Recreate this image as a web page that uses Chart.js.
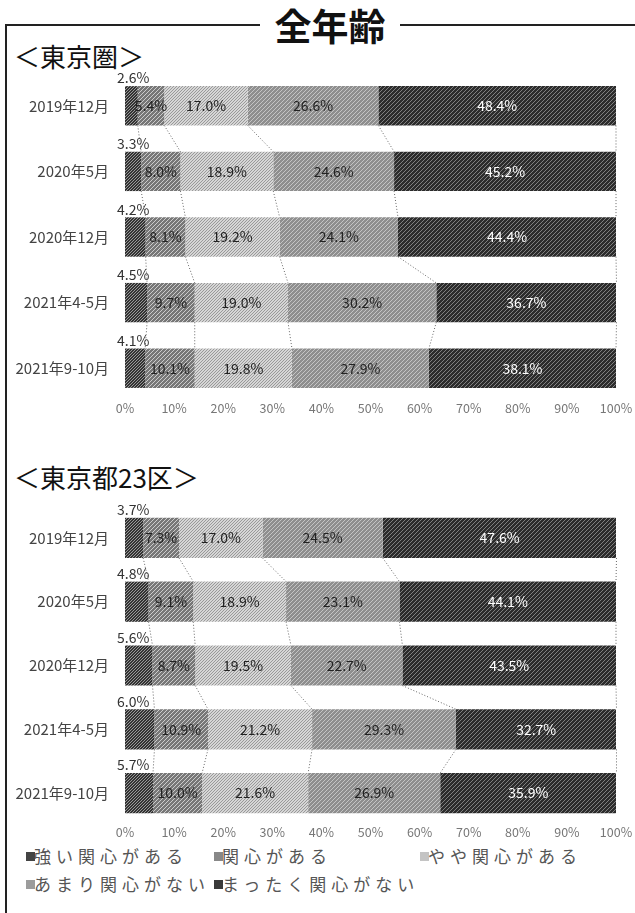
<!DOCTYPE html>
<html>
<head>
<meta charset="utf-8">
<script src="https://cdn.jsdelivr.net/npm/chart.js@4"></script>
<style>
    body { margin: 0; background: #fff; width: 635px; height: 913px; position: relative; overflow: hidden;
           font-family: "Noto Sans CJK JP", sans-serif; }
    #frame { position: absolute; left: 5px; top: 24px; width: 640px; height: 900px;
             border-left: 2px solid #222; border-top: 2px solid #222; }
    #title { position: absolute; left: 260px; top: 3px; width: 140px; text-align: center; background: #fff;
             font-size: 37px; font-weight: bold; line-height: 44px; color: #111; }
    .panel { position: absolute; left: 14px; font-size: 26px; line-height: 30px; color: #111; }
    canvas { position: absolute; left: 0; }
    .legend { position: absolute; font-size: 17px; letter-spacing: 5px; color: #555; line-height: 18px; white-space: nowrap; }
    .legend i { display: inline-block; width: 9px; height: 9px; margin-right: -1px; vertical-align: 2px; }
</style>
</head>
<body>
<div id="frame"></div>
<div id="title">全年齢</div>
<div class="panel" style="top:41px">＜東京圏＞</div>
<div class="panel" style="top:462px">＜東京都23区＞</div>
<canvas id="chartKen" width="635" height="363" style="top:56px"></canvas>
<canvas id="chartKu" width="635" height="354" style="top:489px"></canvas>
<div id="legend"></div>

<script>
// categories and series
const months = ["2019年12月", "2020年5月", "2020年12月", "2021年4-5月", "2021年9-10月"];
const seriesNames = ["強い関心がある", "関心がある", "やや関心がある", "あまり関心がない", "まったく関心がない"];
const xTicks = [0, 10, 20, 30, 40, 50, 60, 70, 80, 90, 100];

// 東京圏
const kenStrong = [2.6, 3.3, 4.2, 4.5, 4.1];
const kenInterest = [5.4, 8.0, 8.1, 9.7, 10.1];
const kenSomewhat = [17.0, 18.9, 19.2, 19.0, 19.8];
const kenLittle = [26.6, 24.6, 24.1, 30.2, 27.9];
const kenNone = [48.4, 45.2, 44.4, 36.7, 38.1];

// 東京都23区
const kuStrong = [3.7, 4.8, 5.6, 6.0, 5.7];
const kuInterest = [7.3, 9.1, 8.7, 10.9, 10.0];
const kuSomewhat = [17.0, 18.9, 19.5, 21.2, 21.6];
const kuLittle = [24.5, 23.1, 22.7, 29.3, 26.9];
const kuNone = [47.6, 44.1, 43.5, 32.7, 35.9];

// greyscale textures like the printed original
function makePattern(bg, fg, step) {
    const c = document.createElement("canvas");
    c.width = step; c.height = step;
    const g = c.getContext("2d");
    g.fillStyle = bg;
    g.fillRect(0, 0, step, step);
    g.fillStyle = fg;
    for (let i = 0; i < step; i++) g.fillRect(i, step - 1 - i, 1, 1);
    return g.createPattern(c, "repeat");
}

const fills = [
    makePattern("#333", "#999", 3),
    makePattern("#777", "#ccc", 4),
    makePattern("#d6d6d6", "#999", 3),
    makePattern("#8e8e8e", "#c4c4c4", 4),
    makePattern("#2c2c2c", "#808080", 4)
];
const legendColors = ["#444", "#888", "#c4c4c4", "#9c9c9c", "#3a3a3a"];

// data labels + dotted series lines
const barExtras = {
    id: "barExtras",
    afterDatasetsDraw(chart) {
        const ctx = chart.ctx;
        const n = chart.data.labels.length;
        ctx.save();
        ctx.strokeStyle = "#666";
        ctx.lineWidth = 1;
        ctx.setLineDash([1, 2]);
        chart.data.datasets.forEach((ds, d) => {
            const meta = chart.getDatasetMeta(d);
            for (let i = 0; i < n - 1; i++) {
                const a = meta.data[i], b = meta.data[i + 1];
                ctx.beginPath();
                ctx.moveTo(a.x, a.y + a.height / 2);
                ctx.lineTo(b.x, b.y - b.height / 2);
                ctx.stroke();
            }
        });
        ctx.setLineDash([]);
        ctx.font = '14px "Noto Sans CJK JP"';
        chart.data.datasets.forEach((ds, d) => {
            const meta = chart.getDatasetMeta(d);
            meta.data.forEach((bar, i) => {
                const txt = ds.data[i].toFixed(1) + "%";
                if (d === 0) {
                    ctx.fillStyle = "#333";
                    ctx.textAlign = "left";
                    ctx.textBaseline = "bottom";
                    ctx.fillText(txt, bar.base - 8, bar.y - bar.height / 2 - 1);
                } else {
                    ctx.fillStyle = d === 4 ? "#fff" : "#222";
                    ctx.textAlign = "center";
                    ctx.textBaseline = "middle";
                    ctx.fillText(txt, (bar.x + bar.base) / 2, bar.y);
                }
            });
        });
        ctx.restore();
    }
};

function makeChart(id, values, axisH, barPct) {
    const ctx = document.getElementById(id).getContext("2d");
    return new Chart(ctx, {
        type: "bar",
        data: {
            labels: months,
            datasets: values.map((v, k) => ({
                label: seriesNames[k],
                data: v,
                backgroundColor: fills[k],
                borderWidth: 0,
                categoryPercentage: 1,
                barPercentage: barPct
            }))
        },
        options: {
            indexAxis: "y",
            responsive: false,
            animation: false,
            layout: { padding: { left: 0, right: 19, top: 0, bottom: 0 } },
            plugins: { legend: { display: false }, tooltip: { enabled: false } },
            scales: {
                x: {
                    stacked: true,
                    min: 0,
                    max: 100,
                    afterBuildTicks: scale => { scale.ticks = xTicks.map(v => ({ value: v })); },
                    afterFit: scale => { scale.height = axisH; },
                    grid: { display: false, drawTicks: false },
                    border: { display: false },
                    ticks: {
                        padding: 0,
                        color: "#777",
                        font: { family: "Noto Sans CJK JP", size: 12.5 },
                        callback: v => v + "%"
                    }
                },
                y: {
                    stacked: true,
                    afterFit: scale => { scale.width = 125; },
                    grid: { display: false },
                    border: { display: false },
                    ticks: {
                        padding: 8,
                        color: "#444",
                        font: { family: "Noto Sans CJK JP", size: 15 }
                    }
                }
            }
        },
        plugins: [barExtras]
    });
}

makeChart("chartKen", [kenStrong, kenInterest, kenSomewhat, kenLittle, kenNone], 18, 0.6);
makeChart("chartKu", [kuStrong, kuInterest, kuSomewhat, kuLittle, kuNone], 18, 0.63);

// legend
const legendPos = [[26, 847], [214, 847], [420, 847], [26, 875], [214, 875]];
const legend = document.getElementById("legend");
seriesNames.forEach((name, k) => {
    const div = document.createElement("div");
    div.className = "legend";
    div.style.left = legendPos[k][0] + "px";
    div.style.top = legendPos[k][1] + "px";
    div.innerHTML = '<i style="background:' + legendColors[k] + '"></i>' + name;
    legend.appendChild(div);
});
</script>
</body>
</html>
